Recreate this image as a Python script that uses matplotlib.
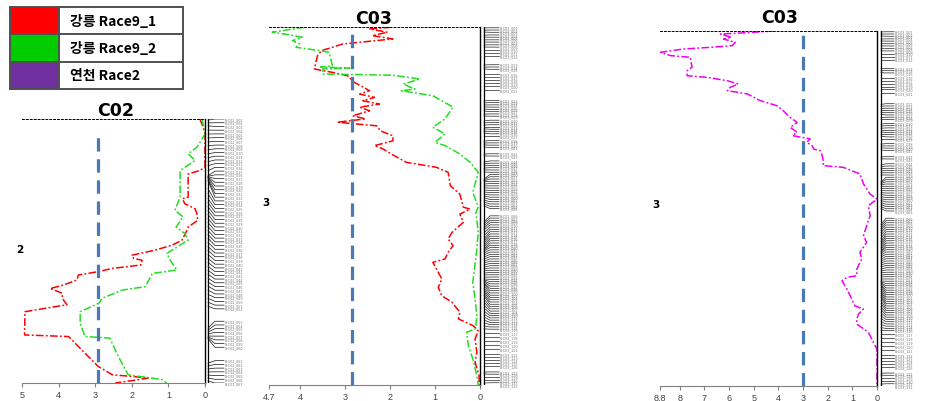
import numpy as np
import matplotlib.pyplot as plt
from matplotlib.patches import Rectangle

W, H = 945, 402

# legend
legend_labels = ['강릉 Race9_1', '강릉 Race9_2', '연천 Race2']
legend_colors = ['#FF0000', '#00CC00', '#7030A0']

# C02 LOD profiles (position cM, LOD)
c02_red_pos = [0, 3.1, 5.7, 18.2, 19.5, 20.8, 29.6, 30.2, 32.1, 34.0, 35.9, 38.4, 40.9,
               42.1, 45.9, 47.8, 49.7, 51.6, 52.8, 53.5, 55.3, 56.6, 57.9, 59.1, 61.0,
               62.9, 64.2, 66.0, 67.9, 70.4, 71.1, 73.0, 81.8, 82.4, 84.9, 88.7, 93.7,
               96.9, 97.5, 98.1, 98.7, 100]
c02_red_lod = [0.14, 0.05, 0.0, 0.0, 0.14, 0.46, 0.46, 0.62, 0.55, 0.27, 0.22, 0.20, 0.46,
               0.49, 0.63, 0.90, 1.37, 2.00, 1.95, 1.72, 1.75, 2.53, 2.95, 3.46, 3.50,
               3.87, 4.23, 3.90, 3.90, 3.77, 4.10, 4.92, 4.93, 3.73, 3.55, 3.28, 2.92,
               2.53, 2.00, 1.55, 1.80, 2.45]
c02_green_pos = [0, 5.7, 10.7, 13.2, 15.7, 19.5, 29.6, 34.6, 37.1, 40.9, 43.4, 45.9, 50.9,
                 53.5, 57.2, 58.5, 63.5, 64.8, 67.9, 69.8, 73.0, 77.4, 82.4, 83.0, 89.9,
                 96.9, 98.7, 100]
c02_green_lod = [0.08, 0.0, 0.22, 0.46, 0.27, 0.68, 0.68, 0.82, 0.60, 0.79, 0.55, 0.46, 1.04,
                 0.95, 0.77, 1.44, 1.63, 2.26, 2.81, 2.90, 3.41, 3.41, 3.28, 2.60, 2.37,
                 2.10, 1.17, 1.05]

# C03 LOD profiles, 강릉
c03_red_pos = [0.1, 0.8, 2.2, 3.6, 5.0, 6.4, 7.1, 8.5, 9.9, 12.0, 17.6, 19.0, 20.4, 23.2,
               26.7, 28.1, 29.5, 30.9, 32.3, 33.6, 35.1, 37.2, 38.5, 39.9, 41.4, 43.5,
               45.6, 47.7, 49.7, 51.1, 53.2, 56.7, 58.8, 60.9, 66.5, 70.0, 75.5, 76.3,
               78.4, 81.8, 86.0, 88.8, 91.6, 94.4, 97.2, 98.6, 105.6, 109.1, 112.6, 115.4,
               119.5, 122.3, 125.2, 127.3, 130.7, 136.3, 140.5, 146.1, 150]
c03_red_lod = [1.98, 2.46, 2.06, 2.40, 1.94, 2.68, 3.06, 3.29, 3.53, 3.62, 3.69, 3.29, 2.95,
               2.80, 2.46, 2.68, 2.35, 2.61, 2.24, 2.68, 2.46, 2.84, 2.55, 3.18, 2.30, 2.22,
               1.94, 1.94, 2.35, 2.16, 1.98, 1.64, 0.97, 0.71, 0.66, 0.45, 0.37, 0.22,
               0.45, 0.37, 0.62, 0.71, 0.60, 0.71, 0.78, 1.05, 0.85, 0.93, 0.85, 0.62,
               0.45, 0.48, 0.15, 0.04, 0.11, 0.07, 0.11, 0.02, 0.02]
c03_green_pos = [0.1, 2.2, 2.9, 4.3, 5.7, 7.1, 8.5, 9.9, 10.6, 16.2, 16.8, 17.2, 17.6, 19.7,
                 20.2, 21.8, 23.9, 26.0, 26.7, 28.8, 33.6, 38.5, 42.0, 44.8, 48.3, 49.7,
                 53.2, 56.7, 60.9, 69.3, 72.8, 75.5, 77.6, 86.0, 93.0, 107.0, 114.0, 121.0,
                 126.5, 127.9, 133.5, 139.1, 146.1, 150]
c03_green_lod = [3.91, 4.63, 4.37, 3.96, 4.18, 4.02, 4.10, 3.58, 3.36, 3.29, 3.55, 2.90, 3.50,
                 3.50, 1.94, 1.34, 1.71, 1.45, 1.75, 1.05, 0.60, 0.78, 1.05, 0.78, 1.00,
                 0.78, 0.45, 0.22, 0.04, 0.16, 0.09, 0.04, 0.09, 0.04, 0.07, 0.16, 0.11,
                 0.07, 0.10, 0.30, 0.26, 0.16, 0.07, 0.04]

# C03 LOD profile, 연천
c03_mag_pos = [0.0, 0.6, 1.3, 2.7, 3.4, 4.8, 6.2, 6.9, 7.6, 9.0, 10.4, 11.1, 15.3, 16.8,
               18.9, 19.6, 21.0, 22.4, 23.8, 25.2, 26.6, 29.4, 31.6, 33.7, 36.5, 38.6,
               40.7, 42.8, 44.2, 45.6, 47.0, 48.5, 49.9, 50.6, 52.0, 54.8, 56.9, 57.6,
               60.4, 64.6, 68.9, 71.0, 73.8, 78.0, 82.3, 86.5, 89.3, 93.5, 96.3, 100.6,
               103.4, 104.1, 105.5, 109.0, 111.8, 116.1, 117.5, 119.6, 121.7, 123.8,
               127.3, 131.5, 134.4, 150]
c03_mag_lod = [4.20, 5.10, 6.35, 5.90, 6.22, 5.75, 5.87, 6.75, 7.84, 8.78, 8.38, 7.57, 7.50,
               7.70, 7.70, 6.88, 6.07, 5.63, 5.95, 6.07, 5.26, 4.74, 4.05, 3.80, 3.53, 3.24,
               3.52, 3.24, 3.43, 2.71, 2.85, 2.63, 2.56, 2.30, 2.24, 2.18, 2.18, 1.37,
               0.69, 0.55, 0.28, 0.00, 0.35, 0.28, 0.42, 0.55, 0.42, 0.69, 0.62, 0.82,
               0.82, 1.22, 1.42, 1.22, 1.09, 0.90, 0.55, 0.75, 0.82, 0.82, 0.35, 0.15,
               0.00, 0.00]

# marker positions (cM)
c02_markers = [0.4, 1.5, 2.6, 4.2, 5.7, 7.2, 8.7, 10.2, 11.7, 13.2, 14.7, 16.2, 17.7, 19.6,
               21.5, 21.7, 21.9, 22.1, 22.2, 22.6, 23.0, 23.4, 26.4, 28.3, 30.2, 31.7,
               33.2, 34.7, 36.2, 37.7, 39.2, 40.7, 42.2, 43.7, 45.2, 46.7, 48.3, 49.8,
               51.3, 52.8, 54.3, 55.8, 57.3, 58.8, 60.3, 61.8, 63.3, 64.8, 66.4, 67.9,
               69.4, 70.9, 79.2, 80.0, 80.7, 81.4, 82.2, 82.6, 82.9, 83.3, 92.5, 93.6,
               94.7, 95.8, 97.0, 98.1, 99.2]
c03_markers = [0.4, 1.3, 2.1, 3.4, 4.2, 5.4, 6.3, 7.5, 8.4, 9.6, 10.9, 12.2, 15.9, 16.8,
               17.6, 19.7, 21.0, 22.2, 23.5, 24.7, 26.4, 31.0, 31.8, 32.7, 33.5, 34.4,
               35.2, 36.5, 37.3, 39.4, 40.2, 41.1, 41.9, 42.7, 43.6, 44.4, 45.7, 47.8,
               48.6, 49.4, 50.3, 53.2, 54.0, 56.6, 57.4, 58.2, 59.1, 59.9, 60.8, 63.7,
               64.1, 64.5, 64.9, 65.8, 66.6, 67.4, 68.3, 69.1, 70.0, 70.8, 71.6, 72.5,
               73.3, 74.2, 75.0, 81.7, 82.5, 83.4, 84.2, 85.1, 86.3, 87.6, 88.8, 89.7,
               90.5, 91.4, 92.2, 93.0, 93.4, 93.9, 94.7, 95.5, 96.4, 97.2, 98.1, 98.9,
               99.7, 100.6, 101.4, 102.2, 103.1, 103.9, 104.8, 105.6, 106.0, 106.4, 106.8,
               107.3, 107.7, 108.5, 109.4, 110.2, 111.0, 111.9, 112.7, 114.0, 115.2, 116.5,
               117.7, 119.0, 120.3, 121.5, 122.8, 124.0, 125.3, 126.5, 128.2, 129.9, 131.6,
               133.2, 134.9, 137.0, 138.3, 139.5, 140.8, 142.0, 144.6, 145.4, 146.7, 147.9,
               149.2, 150.0]

c02_ticks = [5, 4, 3, 2, 1, 0]
c03_ticks = [4.7, 4, 3, 2, 1, 0]
c03b_ticks = [8.8, 8, 7, 6, 5, 4, 3, 2, 1, 0]
thresholds = [2.93, 2.86, 3.0]

TITLE_FONT = ['DejaVu Sans']
KR_FONT = ['Noto Sans CJK KR', 'DejaVu Sans']


def spread_labels(pos, gap, lo, hi):
    groups = [[p, 1, p] for p in sorted(pos)]
    changed = True
    while changed:
        changed = False
        out = []
        for g in groups:
            n = g[1]
            g[2] = min(max(g[0] / n - gap * (n - 1) / 2, lo), hi - gap * (n - 1))
            if out and out[-1][2] + gap * out[-1][1] > g[2]:
                prev = out[-1]
                prev[0] += g[0]
                prev[1] += g[1]
                m = prev[1]
                prev[2] = min(max(prev[0] / m - gap * (m - 1) / 2, lo), hi - gap * (m - 1))
                changed = True
            else:
                out.append(g)
        groups = out
    res = []
    for s, n, start in groups:
        res.extend(start + gap * np.arange(n))
    return np.array(res)


def px_axes(fig, left, top, right, bottom):
    return fig.add_axes([left / W, 1 - bottom / H, (right - left) / W, (bottom - top) / H])


def lod_panel(fig, box, xmax, length, ticks, thr, thr_top, curves):
    ax = px_axes(fig, *box)
    for pos, lod, col in curves:
        ax.plot(lod, pos, color=col, lw=1.1, dashes=(5, 1.5, 1.2, 1.5))
    ax.axvline(thr, ymin=0, ymax=thr_top, color='#4A7AB5', lw=2.3, dashes=(4.2, 2.4))
    ax.set_xlim(xmax, 0)
    ax.set_ylim(length, 0)
    ax.set_xticks(ticks)
    ax.set_xticklabels([f'{t:g}' for t in ticks], fontsize=6.5, color='#404040',
                       family='Liberation Sans')
    ax.set_yticks([])
    ax.tick_params(axis='x', length=3, width=0.8, color='#808080', pad=2)
    ax.spines['left'].set_visible(False)
    ax.spines['bottom'].set_color('#808080')
    ax.spines['bottom'].set_linewidth(0.8)
    ax.spines['right'].set_color('black')
    ax.spines['right'].set_linewidth(1.0)
    ax.spines['top'].set_linestyle((0, (2, 2)))
    ax.spines['top'].set_linewidth(0.7)
    ax.patch.set_alpha(0)
    return ax


def marker_panel(fig, box, length, markers, gap, prefix, bar_x, fan_x, end_x, col):
    ax = px_axes(fig, *box)
    ax.set_xlim(0, box[2] - box[0])
    ax.set_ylim(length, 0)
    ax.axis('off')
    ax.plot([bar_x, bar_x], [0, length], color='black', lw=0.9)
    labs = spread_labels(markers, gap, 0, length)
    for i, (p, l) in enumerate(zip(sorted(markers), labs)):
        ax.plot([bar_x, fan_x, end_x], [p, l, l], color=col, lw=0.5)
        ax.text(end_x + 1, l, f'{prefix}{i + 1:03d}', fontsize=2.4, color='#777777',
                va='center', ha='left')


fig = plt.figure(figsize=(W / 100, H / 100), dpi=100)

# panel 1: C02
lod_panel(fig, (22, 120, 205, 384), 5, 100, c02_ticks, thresholds[0], 0.96,
          [(c02_red_pos, c02_red_lod, '#FF0000'), (c02_green_pos, c02_green_lod, '#22DD22')])
marker_panel(fig, (205, 120, 245, 384), 100, c02_markers, 1.41, 'BrC02_', 3, 10, 19, '#111111')

# panel 2: C03 강릉
lod_panel(fig, (269, 28, 480, 386), 4.7, 150, c03_ticks, thresholds[1], 1.0,
          [(c03_red_pos, c03_red_lod, '#FF0000'), (c03_green_pos, c03_green_lod, '#22DD22')])
marker_panel(fig, (480, 28, 515, 386), 150, c03_markers, 0.95, 'BrC03_', 4, 10, 19, '#222222')

# panel 3: C03 연천
lod_panel(fig, (660, 32, 877, 387), 8.8, 150, c03b_ticks, thresholds[2], 1.0,
          [(c03_mag_pos, c03_mag_lod, '#EE00EE')])
marker_panel(fig, (877, 32, 912, 387), 150, c03_markers, 0.95, 'BrC03_', 4, 9, 17, '#222222')

# titles and linkage group numbers
fig.text(116 / W, 1 - 111 / H, 'C02', fontsize=12.5, fontweight='bold', family=TITLE_FONT,
         ha='center', va='center')
fig.text(374 / W, 1 - 19 / H, 'C03', fontsize=12.5, fontweight='bold', family=TITLE_FONT,
         ha='center', va='center')
fig.text(780 / W, 1 - 18 / H, 'C03', fontsize=12.5, fontweight='bold', family=TITLE_FONT,
         ha='center', va='center')
for x, y, s in [(20, 250, '2'), (266, 203, '3'), (656, 205, '3')]:
    fig.text(x / W, 1 - y / H, s, fontsize=7.5, fontweight='bold', ha='center', va='center')

# legend table
lg = px_axes(fig, 10, 8, 183, 90)
lg.set_xlim(0, 173)
lg.set_ylim(82, 0)
lg.axis('off')
rh = 82 / 3
for i, (lab, col) in enumerate(zip(legend_labels, legend_colors)):
    lg.add_patch(Rectangle((0, i * rh), 49, rh, facecolor=col, edgecolor='none'))
    lg.text(60, (i + 0.5) * rh, lab, fontsize=10, fontweight='bold', family=KR_FONT,
            va='center', ha='left')
for i in range(4):
    lg.plot([0, 173], [i * rh, i * rh], color='#505050', lw=1.4, clip_on=False)
for x in [0, 49, 173]:
    lg.plot([x, x], [0, 82], color='#505050', lw=1.4, clip_on=False)

fig.savefig('out.png', dpi=100)
